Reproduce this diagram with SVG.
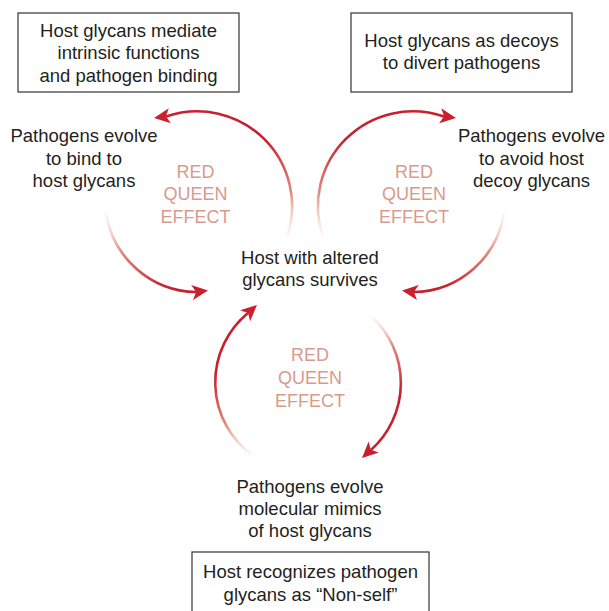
<svg xmlns="http://www.w3.org/2000/svg" width="609" height="611" viewBox="0 0 609 611">
<style>
.t{font-family:"Liberation Sans",Arial,Helvetica,sans-serif;font-size:18.5px;fill:#231f20;text-anchor:middle}
.rq{font-family:"Liberation Sans",Arial,Helvetica,sans-serif;font-size:18px;fill:#d99a8e;text-anchor:middle}
.box{fill:#fff;stroke:#333;stroke-width:1.2}
.arc{fill:none;stroke-width:2.6}
</style>
<defs>
<path id="ah" d="M0,0 L-16,-7.5 L-12,0 L-16,7.5 Z" fill="#c8202f"/>
<linearGradient id="g1" gradientUnits="userSpaceOnUse" x1="288" y1="240" x2="266" y2="140"><stop offset="0" stop-color="#f6d6c8" stop-opacity="0.1"/><stop offset="0.45" stop-color="#e28a7b"/><stop offset="1" stop-color="#c8202f"/></linearGradient>
<linearGradient id="g2" gradientUnits="userSpaceOnUse" x1="104" y1="210" x2="160" y2="290"><stop offset="0" stop-color="#f6d6c8" stop-opacity="0.1"/><stop offset="0.45" stop-color="#e28a7b"/><stop offset="1" stop-color="#c8202f"/></linearGradient>
<linearGradient id="g3" gradientUnits="userSpaceOnUse" x1="322" y1="240" x2="344" y2="140"><stop offset="0" stop-color="#f6d6c8" stop-opacity="0.1"/><stop offset="0.45" stop-color="#e28a7b"/><stop offset="1" stop-color="#c8202f"/></linearGradient>
<linearGradient id="g4" gradientUnits="userSpaceOnUse" x1="506" y1="210" x2="450" y2="290"><stop offset="0" stop-color="#f6d6c8" stop-opacity="0.1"/><stop offset="0.45" stop-color="#e28a7b"/><stop offset="1" stop-color="#c8202f"/></linearGradient>
<linearGradient id="g5" gradientUnits="userSpaceOnUse" x1="252" y1="458" x2="214" y2="375"><stop offset="0" stop-color="#f6d6c8" stop-opacity="0.1"/><stop offset="0.45" stop-color="#e28a7b"/><stop offset="1" stop-color="#c8202f"/></linearGradient>
<linearGradient id="g6" gradientUnits="userSpaceOnUse" x1="372" y1="314" x2="402" y2="392"><stop offset="0" stop-color="#f6d6c8" stop-opacity="0.1"/><stop offset="0.45" stop-color="#e28a7b"/><stop offset="1" stop-color="#c8202f"/></linearGradient>
</defs>

<g id="connectors">
<path class="arc" stroke="url(#g1)" d="M287,237 A95,95 0 0 0 166,116.5"/>
<use href="#ah" transform="translate(154,118) rotate(172)"/>
<path class="arc" stroke="url(#g2)" d="M106,213 A93,93 0 0 0 196,292"/>
<use href="#ah" transform="translate(208,290.5) rotate(-7)"/>
<path class="arc" stroke="url(#g3)" d="M323,237 A95,95 0 0 1 444,116.5"/>
<use href="#ah" transform="translate(456,118) rotate(8)"/>
<path class="arc" stroke="url(#g4)" d="M504,213 A93,93 0 0 1 414,292"/>
<use href="#ah" transform="translate(402,290.5) rotate(187)"/>
<path class="arc" stroke="url(#g5)" d="M252,455 A90,90 0 0 1 248,313"/>
<use href="#ah" transform="translate(257,305) rotate(-42)"/>
<path class="arc" stroke="url(#g6)" d="M372,317 A90,90 0 0 1 371,450"/>
<use href="#ah" transform="translate(362,458) rotate(137)"/>
</g>

<g id="box-intrinsic">
<rect class="box" x="18" y="13" width="221" height="79"/>
<text class="t" x="128.5" y="36.5">Host glycans mediate</text>
<text class="t" x="128.5" y="59">intrinsic functions</text>
<text class="t" x="128.5" y="81.5">and pathogen binding</text>
</g>
<g id="box-decoys">
<rect class="box" x="351" y="13" width="221" height="79"/>
<text class="t" x="461.5" y="46.5">Host glycans as decoys</text>
<text class="t" x="461.5" y="69">to divert pathogens</text>
</g>
<g id="box-nonself">
<rect class="box" x="192" y="552" width="237" height="70"/>
<text class="t" x="310.5" y="578">Host recognizes pathogen</text>
<text class="t" x="310.5" y="601">glycans as “Non-self”</text>
</g>

<g id="label-bind">
<text class="t" x="84" y="142">Pathogens evolve</text>
<text class="t" x="84" y="164.5">to bind to</text>
<text class="t" x="84" y="187">host glycans</text>
</g>
<g id="label-avoid">
<text class="t" x="531.5" y="142">Pathogens evolve</text>
<text class="t" x="531.5" y="164.5">to avoid host</text>
<text class="t" x="531.5" y="187">decoy glycans</text>
</g>
<g id="label-survives">
<text class="t" x="310" y="263.5">Host with altered</text>
<text class="t" x="310" y="286">glycans survives</text>
</g>
<g id="label-mimics">
<text class="t" x="310" y="492.5">Pathogens evolve</text>
<text class="t" x="310" y="514.5">molecular mimics</text>
<text class="t" x="310" y="537">of host glycans</text>
</g>

<g id="rq-left">
<text class="rq" x="195.5" y="177.5">RED</text>
<text class="rq" x="195.5" y="200">QUEEN</text>
<text class="rq" x="195.5" y="222.5">EFFECT</text>
</g>
<g id="rq-right">
<text class="rq" x="414" y="177.5">RED</text>
<text class="rq" x="414" y="200">QUEEN</text>
<text class="rq" x="414" y="222.5">EFFECT</text>
</g>
<g id="rq-bottom">
<text class="rq" x="310" y="361">RED</text>
<text class="rq" x="310" y="384">QUEEN</text>
<text class="rq" x="310" y="406.5">EFFECT</text>
</g>
</svg>
